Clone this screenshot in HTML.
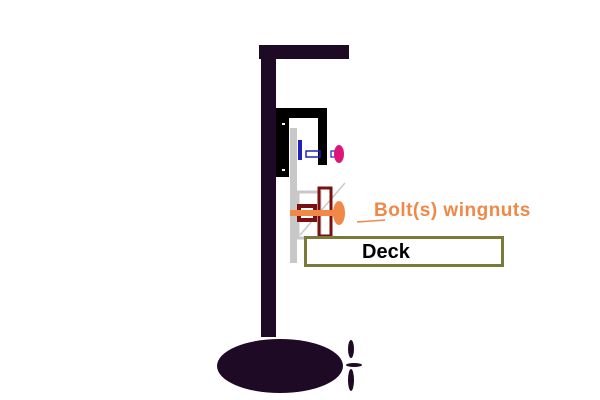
<!DOCTYPE html>
<html><head><style>html,body{margin:0;padding:0;background:#fff;width:600px;height:400px;overflow:hidden}</style></head>
<body>
<svg width="600" height="400" viewBox="0 0 600 400" xmlns="http://www.w3.org/2000/svg">
<rect width="600" height="400" fill="#fff"/>
<rect x="259" y="45" width="90" height="14" fill="#1f0a26"/>
<rect x="261" y="45" width="15" height="292" fill="#1f0a26"/>
<ellipse cx="280" cy="366" rx="63" ry="27" fill="#1f0a26"/>
<ellipse cx="351" cy="349" rx="3" ry="9" fill="#1f0a26"/>
<ellipse cx="351" cy="380" rx="3" ry="11" fill="#1f0a26"/>
<ellipse cx="354" cy="365" rx="8" ry="2" fill="#1f0a26"/>
<rect x="276" y="108" width="51" height="10" fill="#000"/>
<rect x="276" y="108" width="13" height="69" fill="#000"/>
<rect x="318" y="108" width="9" height="57" fill="#000"/>
<rect x="282" y="123" width="3" height="2" fill="#fff"/>
<rect x="282" y="169" width="3" height="2" fill="#fff"/>
<rect x="290" y="128" width="7" height="135" fill="#c8c8c8"/>
<rect x="298" y="140" width="4" height="20" fill="#2020c0"/>
<rect x="306" y="151" width="14" height="6" fill="none" stroke="#2020c0" stroke-width="1.5"/>
<rect x="331" y="151" width="5" height="6" fill="none" stroke="#2020c0" stroke-width="1.2"/>
<ellipse cx="339" cy="154" rx="5" ry="9" fill="#e0157a"/>
<rect x="298" y="192" width="22" height="46" fill="none" stroke="#c8c8c8" stroke-width="3"/>
<line x1="300" y1="235" x2="345" y2="183" stroke="#c8c8c8" stroke-width="1.5"/>
<rect x="319" y="188" width="12" height="48" fill="none" stroke="#7a1010" stroke-width="3"/>
<rect x="299" y="206" width="16" height="14" fill="none" stroke="#7a1010" stroke-width="4"/>
<rect x="290" y="210" width="52" height="6" fill="#f08848"/>
<ellipse cx="339" cy="213" rx="6" ry="12" fill="#f08848"/>
<line x1="357" y1="222" x2="385" y2="220" stroke="#f08848" stroke-width="1.5"/>
<text x="374" y="216" font-family="Liberation Sans, sans-serif" font-weight="bold" font-size="19" letter-spacing="0.5" fill="#f08848">Bolt(s) wingnuts</text>
<rect x="305.5" y="237.5" width="197" height="28" fill="#fff" stroke="#7a7a3a" stroke-width="3"/>
<text x="362" y="258" font-family="Liberation Sans, sans-serif" font-weight="bold" font-size="20" fill="#000">Deck</text>
</svg>
</body></html>
